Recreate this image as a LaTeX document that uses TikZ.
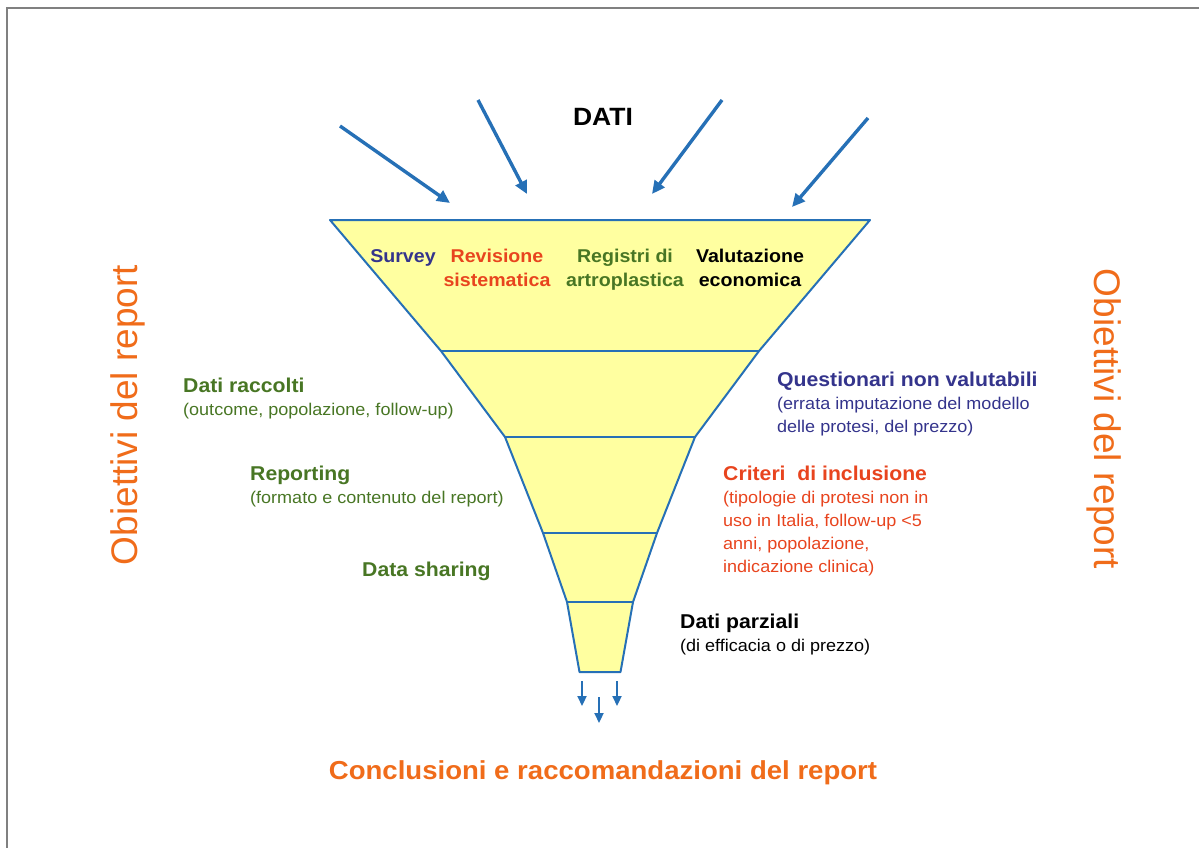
\documentclass[tikz,border=0pt]{standalone}
\usepackage{fontspec}
\setmainfont[FakeStretch=1.06]{Liberation Sans}
\newfontfamily\sidefont{Liberation Sans}
\usepackage{tikz}
\usepackage{xcolor}
\usetikzlibrary{arrows.meta}
\definecolor{funnelblue}{RGB}{38,112,182}
\definecolor{funnelyellow}{RGB}{255,255,160}
\definecolor{framegray}{RGB}{128,128,128}
\definecolor{surveyblue}{RGB}{52,52,140}
\definecolor{redorange}{RGB}{232,68,30}
\definecolor{labgreen}{RGB}{72,118,36}
\definecolor{reportorange}{RGB}{240,108,26}
\newcommand{\hdfont}{\bfseries\fontsize{20}{23}\selectfont}
\tikzstyle{lbl} = [align=left, anchor=north west, font=\fontsize{17}{23}\selectfont]
\tikzstyle{flbl} = [align=center, anchor=north, font=\bfseries\fontsize{18.5}{24}\selectfont]
\tikzstyle{inarrow} = [funnelblue, line width=3.4pt, -{Triangle[length=13pt,width=12pt]}]
\tikzstyle{outarrow} = [funnelblue, line width=2.2pt, -{Triangle[length=10pt,width=9pt]}]

\begin{document}
\begin{tikzpicture}[x=1pt,y=-1pt]
			\tikzset{every node/.style={inner sep=0}}
\useasboundingbox (0,0) rectangle (1199,848);
\draw[framegray, line width=1.5pt] (7,848) -- (7,8) -- (1199,8);

% funnel levels: index/half width/y
\foreach \i/\w/\y in {0/270/220,1/159/351,2/95/437,3/57/533,4/33/602,5/20.5/672}
{
	\coordinate (l\i) at (600-\w,\y);
	\coordinate (r\i) at (600+\w,\y);
}
\draw[funnelblue, line width=2pt, fill=funnelyellow, line join=round]
	(l0) -- (l1) -- (l2) -- (l3) -- (l4) -- (l5) -- (r5) -- (r4) -- (r3) -- (r2) -- (r1) -- (r0) -- cycle;
\foreach \i in {1,...,4}
{
	\draw[funnelblue, line width=2pt] (l\i) -- (r\i);
}

% incoming data
\node (dati) at (603,117) {\bfseries\fontsize{25}{30}\selectfont DATI};
\coordinate (a1) at (340,126);
\coordinate (b1) at (450,203);
\coordinate (a2) at (478,100);
\coordinate (b2) at (527,194);
\coordinate (a3) at (722,100);
\coordinate (b3) at (652,194);
\coordinate (a4) at (868,118);
\coordinate (b4) at (792,207);
\foreach \from/\to in {a1/b1,a2/b2,a3/b3,a4/b4}
{
	\draw[inarrow] (\from) -- (\to);
}

\node[flbl, text=surveyblue] (survey) at (403,249) {Survey};
\node[flbl, text=redorange] (revisione) at (497,249) {Revisione\\sistematica};
\node[flbl, text=labgreen] (registri) at (625,249) {Registri di\\artroplastica};
\node[flbl] (valutazione) at (750,249) {Valutazione\\economica};

% left side
\node[lbl, text=labgreen] (raccolti) at (183,378) {{\hdfont Dati raccolti}\\(outcome, popolazione, follow-up)};
\node[lbl, text=labgreen] (reporting) at (250,466) {{\hdfont Reporting}\\(formato e contenuto del report)};
\node[lbl, text=labgreen] (sharing) at (362,562) {{\hdfont Data sharing}};

% right side
\node[lbl, text=surveyblue] (questionari) at (777,372) {{\hdfont Questionari non valutabili}\\(errata imputazione del modello\\delle protesi, del prezzo)};
\node[lbl, text=redorange] (criteri) at (723,466) {{\hdfont Criteri\ \ di inclusione}\\(tipologie di protesi non in\\uso in Italia, follow-up <5\\anni, popolazione,\\indicazione clinica)};
\node[lbl] (parziali) at (680,614) {{\hdfont Dati parziali}\\(di efficacia o di prezzo)};

% outgoing
\coordinate (c1) at (582,681);
\coordinate (d1) at (582,706);
\coordinate (c2) at (599,697);
\coordinate (d2) at (599,723);
\coordinate (c3) at (617,681);
\coordinate (d3) at (617,706);
\foreach \from/\to in {c1/d1,c2/d2,c3/d3}
{
	\draw[outarrow] (\from) -- (\to);
}
\node[text=reportorange] (conclusioni) at (603,773) {\bfseries\fontsize{26}{30}\selectfont Conclusioni e raccomandazioni del report};

\node[rotate=90, text=reportorange, font=\sidefont\fontsize{37}{40}\selectfont] (obiettivi1) at (128,415) {Obiettivi del report};
\node[rotate=-90, text=reportorange, font=\sidefont\fontsize{37}{40}\selectfont] (obiettivi2) at (1104,419) {Obiettivi del report};

		\end{tikzpicture}
\end{document}
